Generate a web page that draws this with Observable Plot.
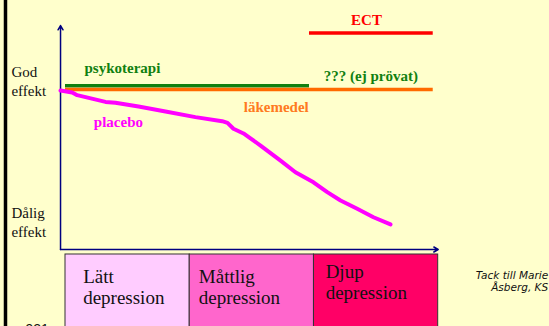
<!DOCTYPE html>
<html>
<head>
<meta charset="utf-8">
<script src="https://cdn.jsdelivr.net/npm/d3@7"></script>
<script src="https://cdn.jsdelivr.net/npm/@observablehq/plot@0.6"></script>
<style>
  html, body { margin: 0; padding: 0; background: #FFFFCC; }
  #chart svg { display: block; }
</style>
</head>
<body>
<div id="chart"></div>
<script>
// Severity scale: 0..3 (Lätt, Måttlig, Djup); effect scale: 0 (Dålig) .. 100 (God)
const severityBands = ["Lätt\ndepression", "Måttlig\ndepression", "Djup\ndepression"];
const bandStart = [0, 1, 2];
const bandEnd = [1, 2, 3];
const bandColors = ["#FFCCFF", "#FF66CC", "#FF0066"];
const bandLabelX = [0.142, 1.073, 2.094];
const bandLabelY = [-24.5, -24.2, -22.0];

// Placebo curve (severity, effect)
const placeboX = [-0.04, 0.054, 0.094, 0.322, 0.402, 0.588, 0.805, 1.046, 1.261, 1.304, 1.352, 1.433, 1.489, 1.570, 1.731, 1.851, 1.996, 2.107, 2.214, 2.348, 2.479, 2.616];
const placeboY = [71.0, 70.1, 68.9, 65.9, 65.5, 63.8, 61.6, 59.1, 57.3, 56.5, 53.9, 51.8, 49.6, 46.4, 39.7, 34.5, 30.0, 25.6, 21.9, 18.2, 14.4, 11.2];

// Treatment levels (flat lines)
const treatments = ["psykoterapi", "läkemedel", "ECT"];
const treatStart = [0, 0, 1.964];
const treatEnd = [1.964, 2.96, 2.96];
const treatEffect = [73.1, 71.4, 96.7];
const treatColors = ["#108010", "#FF6A00", "#FF0000"];

// Line labels
const labelTexts = ["psykoterapi", "placebo", "läkemedel", "??? (ej prövat)", "ECT"];
const labelX = [0.153, 0.228, 1.435, 2.079, 2.423];
const labelY = [78.6, 54.9, 61.3, 75.4, 100.4];
const labelColors = ["#108010", "#FF00FF", "#FF7A20", "#108010", "#FF0000"];
const labelAnchors = ["start", "start", "start", "start", "middle"];

// Axis end labels
const effectLabels = ["God\neffekt", "Dålig\neffekt"];
const effectLabelY = [68.75, 5.8];

const credit = "Tack till Marie\nÅsberg, KS";
const slideNo = "921";

const bands = severityBands.map((t, i) => ({label: t, x1: bandStart[i], x2: bandEnd[i], fill: bandColors[i], lx: bandLabelX[i], ly: bandLabelY[i]}));
const placebo = placeboX.map((x, i) => ({x, y: placeboY[i]}));
const lines = treatments.map((t, i) => ({name: t, x1: treatStart[i], x2: treatEnd[i], y: treatEffect[i], color: treatColors[i]}));
const labels = labelTexts.map((t, i) => ({text: t, x: labelX[i], y: labelY[i], color: labelColors[i], anchor: labelAnchors[i]}));

const serif = "'Liberation Serif', 'Times New Roman', serif";
const labelStyle = {x: "x", y: "y", text: "text", fill: "color", lineAnchor: "bottom", fontSize: 15, fontWeight: "bold", fontFamily: serif};

const plot = Plot.plot({
  width: 549,
  height: 326,
  margin: 0,
  style: {background: "#FFFFCC", fontFamily: serif},
  x: {domain: [0, 3], range: [65, 437.7], axis: null},
  y: {domain: [0, 100], range: [249, 25], axis: null},
  marks: [
    // left black slide bar
    Plot.ruleX([-0.483], {stroke: "#000", strokeWidth: 3.5}),
    // severity boxes
    Plot.rect(bands, {x1: "x1", x2: "x2", y1: -40, y2: -2.23, fill: "fill", stroke: "#333", strokeWidth: 1}),
    Plot.text(bands, {x: "lx", y: "ly", text: "label", textAnchor: "start", lineAnchor: "bottom", lineHeight: 1.1, fontSize: 19, fill: "#111", fontFamily: serif}),
    // axes with arrows
    Plot.arrow([{x1: -0.04, y1: 0, x2: -0.04, y2: 100}], {x1: "x1", y1: "y1", x2: "x2", y2: "y2", stroke: "#000080", strokeWidth: 1.5, headLength: 5}),
    Plot.arrow([{x1: -0.04, y1: 0, x2: 3.0, y2: 0}], {x1: "x1", y1: "y1", x2: "x2", y2: "y2", stroke: "#000080", strokeWidth: 1.5, headLength: 5}),
    // treatment lines
    Plot.ruleY(lines, {x1: "x1", x2: "x2", y: "y", stroke: "color", strokeWidth: 3.5}),
    // placebo
    Plot.line(placebo, {x: "x", y: "y", stroke: "#FF00FF", strokeWidth: 4, strokeLinejoin: "round", strokeLinecap: "round"}),
    // labels
    Plot.text(labels.filter(d => d.anchor === "start"), {...labelStyle, textAnchor: "start"}),
    Plot.text(labels.filter(d => d.anchor === "middle"), {...labelStyle, textAnchor: "middle"}),
    // axis end labels
    Plot.text(effectLabels, {x: -0.435, y: (d, i) => effectLabelY[i], text: d => d, textAnchor: "start", lineAnchor: "bottom", lineHeight: 1.23, fontSize: 15, fill: "#111", fontFamily: serif}),
    // credit
    Plot.text([credit], {x: 3.885, y: -18.6, text: d => d, textAnchor: "end", lineAnchor: "bottom", lineHeight: 1.15, fontSize: 10.5, fontStyle: "italic", fill: "#111", fontFamily: "'DejaVu Sans', sans-serif"}),
    // slide number
    Plot.text([slideNo], {x: -0.322, y: -37.5, text: d => d, textAnchor: "start", lineAnchor: "bottom", fontSize: 14, fill: "#111", fontFamily: "'Liberation Sans', Arial, sans-serif"})
  ]
});
document.getElementById("chart").appendChild(plot);
</script>
</body>
</html>
